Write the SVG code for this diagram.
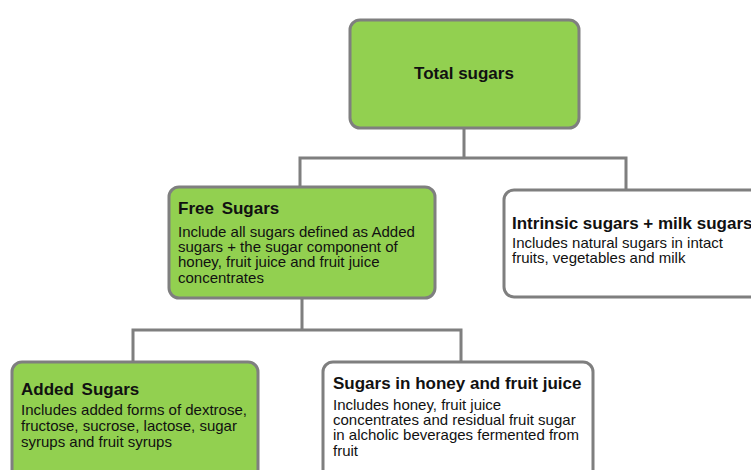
<svg xmlns="http://www.w3.org/2000/svg" width="751" height="470" viewBox="0 0 751 470">
<style>
.box{stroke:#7f7f7f;stroke-width:3}
.g{fill:#92d050}
.w{fill:#ffffff}
.conn{fill:none;stroke:#7f7f7f;stroke-width:3}
text{font-family:"Liberation Sans",Arial,sans-serif;fill:#111111}
.t{font-weight:bold;font-size:17px}
.b{font-size:15px}
</style>
<rect width="751" height="470" fill="#ffffff"/>
<g id="connectors">
<path class="conn" d="M464 128V158M300 188V158H626V190"/>
<path class="conn" d="M302 298V330M133 362V330H461V362"/>
</g>
<g id="total">
<rect class="box g" x="350" y="20" width="229" height="108" rx="10"/>
<text class="t" x="464" y="79" text-anchor="middle">Total sugars</text>
</g>
<g id="free">
<rect class="box g" x="169" y="187" width="266" height="111" rx="10"/>
<text class="t" x="178" y="214" word-spacing="3">Free Sugars</text>
<text class="b" x="178" y="237">Include all sugars defined as Added</text>
<text class="b" x="178" y="252">sugars + the sugar component of</text>
<text class="b" x="178" y="267">honey, fruit juice and fruit juice</text>
<text class="b" x="178" y="283">concentrates</text>
</g>
<g id="intrinsic">
<rect class="box w" x="504" y="190" width="270" height="107" rx="10"/>
<text class="t" x="512" y="229">Intrinsic sugars + milk sugars</text>
<text class="b" x="512" y="248">Includes natural sugars in intact</text>
<text class="b" x="512" y="263">fruits, vegetables and milk</text>
</g>
<g id="added">
<rect class="box g" x="12" y="362" width="246" height="130" rx="10"/>
<text class="t" x="21" y="395" word-spacing="3">Added Sugars</text>
<text class="b" x="21" y="415">Includes added forms of dextrose,</text>
<text class="b" x="21" y="431">fructose, sucrose, lactose, sugar</text>
<text class="b" x="21" y="447">syrups and fruit syrups</text>
</g>
<g id="honey">
<rect class="box w" x="323" y="362" width="270" height="130" rx="10"/>
<text class="t" x="333" y="389">Sugars in honey and fruit juice</text>
<text class="b" x="333" y="410">Includes honey, fruit juice</text>
<text class="b" x="333" y="425">concentrates and residual fruit sugar</text>
<text class="b" x="333" y="440">in alcholic beverages fermented from</text>
<text class="b" x="333" y="456">fruit</text>
</g>
</svg>
